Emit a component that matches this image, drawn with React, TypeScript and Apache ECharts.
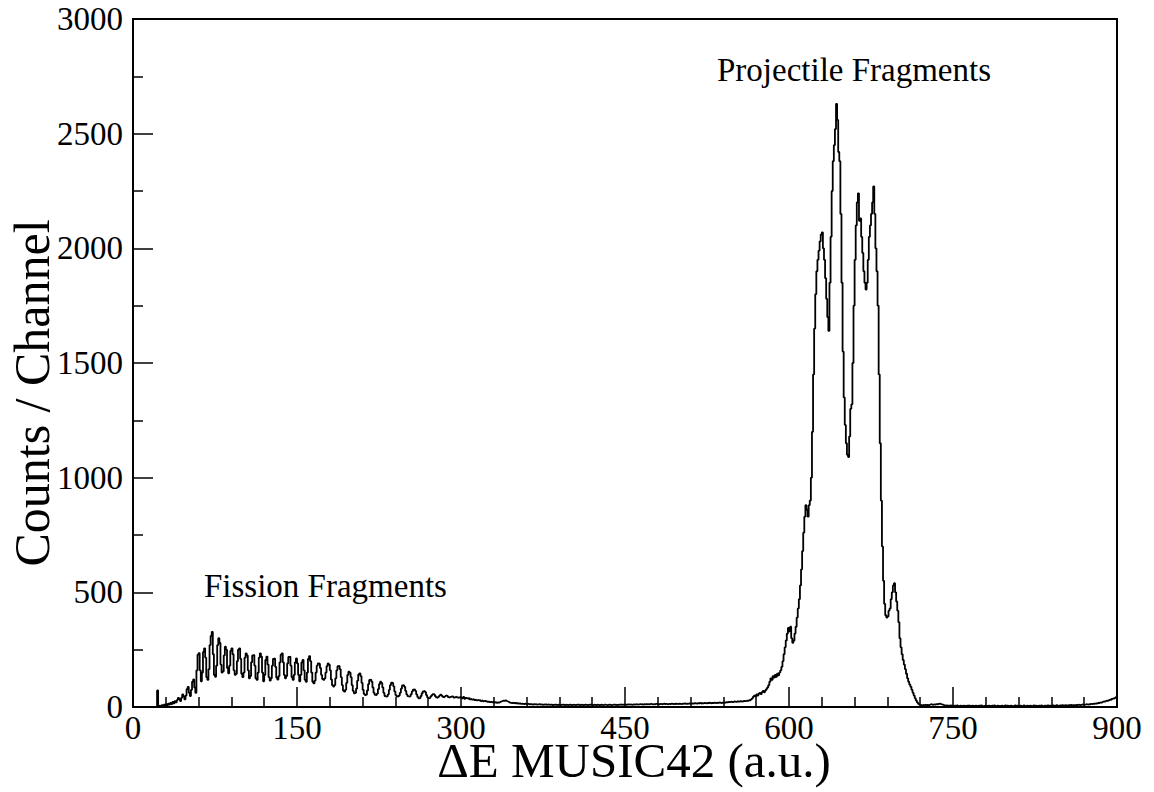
import React, { useEffect, useRef } from "react";
import * as echarts from "echarts";

// Histogram: 1 a.u. wide bins, counts per channel starting at 0
const binStart = 0;
const binWidth = 1;

const counts000 = [
  0, 0, 0, 0, 0, 0, 0, 0, 0, 0, 0, 0, 0, 0, 0, 0, 0, 0, 0, 0,
  0, 0, 72, 4, 6, 2, 8, 5, 10, 6, 12, 8, 15, 11, 18, 13, 22, 16, 26, 20,
  30, 40, 34, 26, 40, 55, 46, 33, 50, 78, 88, 62, 48, 75, 110, 120, 85, 62, 160, 228,
  235, 160, 112, 150, 240, 256, 215, 130, 118, 165, 270, 310, 328, 230, 140, 132, 180, 270, 300, 280,
  185, 150, 155, 225, 263, 250, 170, 147, 180, 245, 256, 230, 160, 140, 145, 200, 250, 256, 210, 145,
];
const counts100 = [
  130, 150, 215, 234, 225, 160, 125, 135, 195, 225, 227, 180, 125, 118, 150, 215, 234, 220, 150, 112,
  140, 205, 220, 185, 130, 115, 125, 180, 210, 212, 175, 128, 120, 135, 195, 228, 234, 195, 140, 125,
  135, 190, 218, 220, 180, 130, 118, 140, 195, 212, 190, 140, 112, 140, 195, 205, 160, 118, 110, 150,
  210, 222, 200, 150, 110, 103, 115, 150, 180, 190, 188, 170, 140, 122, 118, 125, 150, 178, 190, 185,
  160, 120, 95, 89, 95, 125, 160, 178, 179, 165, 130, 95, 72, 67, 75, 105, 140, 154, 150, 130,
];
const counts200 = [
  95, 70, 60, 62, 80, 115, 142, 147, 135, 105, 75, 57, 52, 55, 72, 100, 118, 120, 110, 85,
  62, 53, 52, 58, 78, 100, 110, 105, 85, 62, 48, 45, 47, 55, 75, 95, 106, 104, 90, 68,
  52, 46, 45, 50, 62, 80, 94, 96, 88, 70, 55, 47, 45, 48, 56, 68, 76, 77, 70, 55,
  44, 38, 40, 48, 60, 68, 70, 65, 52, 42, 38, 40, 46, 52, 56, 55, 48, 42, 40, 44,
  50, 54, 50, 44, 42, 46, 50, 48, 43, 40, 44, 47, 45, 41, 43, 46, 42, 40, 43, 41,
];
const counts300 = [
  42, 38, 44, 36, 40, 38, 35, 39, 33, 36, 32, 35, 30, 33, 29, 31, 28, 30, 26, 29,
  25, 27, 24, 26, 22, 25, 21, 23, 20, 22, 19, 21, 18, 20, 19, 22, 24, 26, 28, 27,
  29, 26, 24, 22, 19, 18, 17, 19, 16, 18, 15, 17, 14, 16, 13, 15, 14, 12, 15, 13,
  12, 14, 11, 13, 12, 10, 13, 11, 12, 10, 11, 13, 10, 12, 9, 11, 10, 12, 9, 11,
  10, 9, 11, 8, 10, 9, 11, 8, 10, 9, 8, 10, 9, 11, 8, 9, 10, 8, 9, 10,
];
const counts400 = [
  9, 8, 10, 9, 8, 10, 9, 11, 8, 9, 10, 8, 9, 10, 9, 8, 10, 9, 11, 9,
  8, 10, 9, 8, 10, 9, 8, 9, 10, 8, 9, 11, 9, 8, 10, 9, 10, 8, 9, 11,
  9, 10, 8, 10, 9, 11, 10, 9, 11, 10, 9, 11, 10, 12, 10, 11, 9, 12, 10, 11,
  12, 10, 11, 13, 11, 12, 10, 13, 11, 12, 13, 11, 12, 14, 12, 11, 13, 12, 14, 12,
  13, 12, 14, 12, 13, 15, 12, 14, 13, 12, 14, 13, 15, 13, 14, 12, 15, 14, 13, 15,
];
const counts500 = [
  14, 13, 15, 14, 16, 13, 15, 14, 16, 15, 14, 16, 15, 17, 16, 15, 17, 16, 18, 15,
  17, 16, 18, 17, 16, 18, 17, 19, 16, 18, 17, 19, 18, 17, 19, 18, 20, 17, 19, 18,
  20, 19, 21, 20, 22, 21, 23, 22, 21, 24, 23, 22, 25, 24, 23, 26, 25, 24, 27, 26,
  26, 28, 27, 30, 29, 33, 38, 45, 50, 46, 55, 50, 58, 62, 56, 65, 70, 64, 72, 78,
  85, 95, 110, 125, 118, 135, 128, 140, 132, 145, 138, 150, 160, 175, 200, 230, 260, 290, 320, 345,
];
const counts600 = [
  330, 350, 300, 280, 290, 320, 350, 390, 430, 470, 530, 600, 680, 760, 830, 880, 860, 830, 880, 900,
  1000, 1200, 1450, 1650, 1800, 1900, 1950, 1990, 2030, 2060, 2070, 2000, 1950, 1870, 1780, 1700, 1640, 1850, 2050, 2250,
  2380, 2450, 2520, 2630, 2560, 2420, 2380, 2150, 1850, 1550, 1350, 1230, 1150, 1100, 1090, 1180, 1300, 1320, 1500, 1750,
  1950, 2100, 2200, 2240, 2120, 2130, 2050, 1980, 1900, 1850, 1820, 1850, 1950, 2050, 2100, 2150, 2200, 2270, 2150, 2000,
  1900, 1750, 1450, 1150, 900, 700, 550, 450, 400, 390, 395, 420, 430, 470, 500, 530, 540, 500, 460, 420,
];
const counts700 = [
  370, 300, 260, 230, 205, 185, 165, 145, 125, 110, 98, 88, 75, 62, 50, 38, 28, 20, 14, 10,
  8, 6, 9, 7, 10, 8, 9, 7, 10, 12, 11, 9, 12, 10, 13, 11, 14, 15, 13, 11,
  10, 8, 7, 6, 7, 5, 6, 7, 5, 6, 4, 6, 5, 7, 5, 4, 6, 5, 4, 6,
  5, 4, 6, 5, 7, 4, 5, 6, 4, 5, 6, 5, 4, 6, 5, 7, 5, 4, 5, 6,
  4, 5, 6, 5, 4, 6, 5, 7, 5, 4, 6, 5, 4, 5, 6, 4, 5, 7, 5, 6,
];
const counts800 = [
  5, 4, 6, 5, 4, 5, 7, 5, 6, 4, 5, 6, 4, 5, 7, 5, 4, 6, 5, 5,
  6, 4, 5, 7, 5, 6, 4, 5, 6, 5, 7, 5, 4, 6, 5, 6, 7, 5, 6, 5,
  6, 7, 5, 6, 8, 6, 5, 7, 6, 8, 7, 6, 8, 7, 6, 8, 7, 9, 7, 8,
  8, 7, 9, 8, 10, 9, 8, 10, 11, 9, 10, 12, 11, 10, 13, 12, 14, 13, 15, 14,
  16, 15, 18, 17, 20, 19, 22, 24, 23, 26, 28, 27, 30, 32, 31, 35, 38, 36, 40, 44,
];

const xTitle = "ΔE MUSIC42 (a.u.)";
const yTitle = "Counts / Channel";
const annotations = [
  { text: "Fission Fragments", x: 204, y: 586 },
  { text: "Projectile Fragments", x: 717, y: 70 },
];

const SERIF = "Liberation Serif";

export default function App() {
  const ref = useRef<HTMLDivElement>(null);
  useEffect(() => {
    if (!ref.current) return;
    const chart = echarts.init(ref.current, null, { renderer: "svg" });
    const counts = [
      ...counts000, ...counts100, ...counts200, ...counts300, ...counts400,
      ...counts500, ...counts600, ...counts700, ...counts800,
    ];
    const data: number[][] = counts.map((c, i) => [binStart + i * binWidth, c]);
    data.push([binStart + counts.length * binWidth, counts[counts.length - 1]]);

    const tickLine = { color: "#000", width: 1.5 };
    const plain = (v: number) => String(v);
    chart.setOption({
      animation: false,
      backgroundColor: "#fff",
      textStyle: { fontFamily: SERIF },
      grid: {
        left: 133,
        right: 37,
        top: 19,
        bottom: 85,
        show: true,
        borderColor: "#000",
        borderWidth: 2,
        backgroundColor: "transparent",
      },
      xAxis: {
        type: "value",
        min: 0,
        max: 900,
        interval: 150,
        axisLine: { show: true, onZero: false, lineStyle: { color: "#000", width: 2 } },
        axisTick: { show: true, inside: true, length: 20, lineStyle: tickLine },
        minorTick: { show: true, splitNumber: 5, length: 10, lineStyle: tickLine },
        splitLine: { show: false },
        axisLabel: {
          color: "#000", fontFamily: SERIF, fontSize: 33, lineHeight: 26, margin: 8, formatter: plain,
        },
      },
      yAxis: {
        type: "value",
        min: 0,
        max: 3000,
        interval: 500,
        axisLine: { show: true, onZero: false, lineStyle: { color: "#000", width: 2 } },
        axisTick: { show: true, inside: true, length: 20, lineStyle: tickLine },
        minorTick: { show: true, splitNumber: 2, length: 10, lineStyle: tickLine },
        splitLine: { show: false },
        axisLabel: { color: "#000", fontFamily: SERIF, fontSize: 33, margin: 10, formatter: plain },
      },
      series: [
        {
          type: "line",
          step: "end",
          data,
          showSymbol: false,
          symbol: "none",
          lineStyle: { color: "#000", width: 1.8 },
          clip: true,
        },
      ],
      graphic: [
        {
          type: "text",
          x: 634,
          y: 760,
          style: {
            text: xTitle, fontFamily: SERIF, fontSize: 49, lineHeight: 34, fill: "#000",
            align: "center", verticalAlign: "middle",
          },
        },
        {
          type: "text",
          x: 32,
          y: 393,
          rotation: Math.PI / 2,
          style: { text: yTitle, fontFamily: SERIF, fontSize: 50, fill: "#000", align: "center", verticalAlign: "middle" },
        },
        ...annotations.map((a) => ({
          type: "text",
          x: a.x,
          y: a.y,
          style: { text: a.text, fontFamily: SERIF, fontSize: 33, fill: "#000", align: "left", verticalAlign: "middle" },
        })),
      ],
    });
    return () => chart.dispose();
  }, []);
  return (
    <div
      ref={ref}
      style={{ position: "absolute", left: 0, top: 0, width: 1154, height: 792, background: "#fff" }}
    />
  );
}
